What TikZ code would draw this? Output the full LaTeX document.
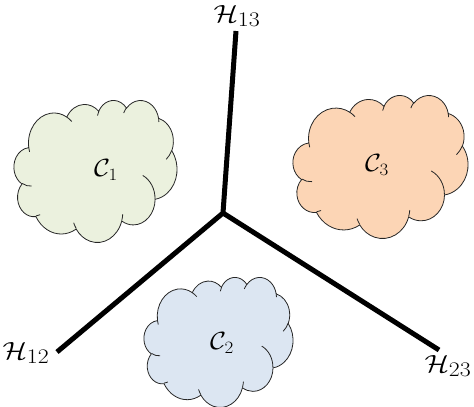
\documentclass[tikz,border=0pt]{standalone}
\usepackage{tikz}
\definecolor{cgreen}{HTML}{EBF1DE}
\definecolor{corange}{HTML}{FCD5B5}
\definecolor{cblue}{HTML}{DCE6F2}
\newcommand\ooarc[4]{arc[start angle={atan2((#1)*sin(#3),(#2)*cos(#3))}, delta angle={mod(atan2((#1)*sin((#3)+(#4)),(#2)*cos((#3)+(#4)))-atan2((#1)*sin(#3),(#2)*cos(#3))+720,360)}, x radius=#1, y radius=#2]}
\newcommand\oocloud[5]{%
\begin{scope}[xshift=#1pt, yshift=-#2pt, x=#3pt, y=-#4pt]
\filldraw[cloudline, fill=#5] (3.9,14.37)
 \ooarc{6.753}{9.19}{-190.4875}{123.7805}
 \ooarc{5.333}{7.267}{-144.1024}{89.9452}
 \ooarc{4.365}{5.945}{-145.8079}{99.7230}
 \ooarc{4.857}{6.595}{-130.9861}{117.2417}
 \ooarc{5.333}{7.273}{-78.7089}{109.0269}
 \ooarc{6.775}{9.22}{-46.2673}{130.269}
 \ooarc{5.785}{7.867}{0.625}{114.0333}
 \ooarc{6.752}{9.215}{22.4516}{115.1726}
 \ooarc{7.72}{10.543}{66.2426}{75.7110}
 \ooarc{4.36}{5.918}{-274.9421}{146.7356}
 \ooarc{4.345}{5.945}{-246.8285}{152.5189} -- cycle;
\draw[cloudline]
 (4.693,26.177) \ooarc{4.345}{5.945}{86.7420}{26.4295}
 (6.928,34.899) \ooarc{4.36}{5.918}{73.6105}{11.4475}
 (16.478,39.09) \ooarc{6.752}{9.215}{137.6242}{14.0811}
 (28.827,34.751) \ooarc{6.752}{9.215}{6.4533}{15.9984}
 (34.129,22.954) \ooarc{5.785}{7.867}{-70.2924}{70.9174}
 (41.798,15.354) \ooarc{5.333}{7.273}{30.3180}{27.7515}
 (38.324,5.426) \ooarc{4.857}{6.595}{-13.7443}{14.8589}
 (29.078,3.952) \ooarc{4.857}{6.595}{-149.1815}{18.1954}
 (22.141,4.72) \ooarc{4.365}{5.945}{-163.4943}{17.6864}
 (14.0,5.192) \ooarc{6.753}{9.19}{-66.7070}{12.3194}
 (4.127,15.789) \ooarc{6.753}{9.19}{157.6544}{11.8582};
\end{scope}}
\begin{document}
\begin{tikzpicture}[x=1pt, y=-1pt,
  cloudline/.style={draw=black!85, line width=0.8pt},
  wall/.style={line width=5pt, black},
  hlabel/.style={inner sep=0pt, font=\fontsize{28}{32}\selectfont, xscale=1.15},
  clabel/.style={inner sep=0pt, font=\fontsize{24}{28}\selectfont, xscale=1.1}]
\useasboundingbox (0,0) rectangle (474,407);
\oocloud{14}{100}{3.7731}{3.2870}{cgreen}
\oocloud{293}{95}{4.0509}{3.3102}{corange}
\oocloud{144}{277}{3.4491}{3.0093}{cblue}
\node[clabel] (c1) at (106,170) {$\mathcal{C}_1$};
\node[clabel] (c3) at (377,165) {$\mathcal{C}_3$};
\node[clabel] (c2) at (222,343) {$\mathcal{C}_2$};
\coordinate (O) at (223,213);
\coordinate (e13) at (236,31);
\coordinate (e12) at (57,352);
\coordinate (e23) at (439,350);
\draw[wall] (e13) -- (O) -- (e12);
\draw[wall] (O) -- (e23);
\node[hlabel] (h13) at (237,16) {$\mathcal{H}_{13}$};
\node[hlabel] (h12) at (26,353) {$\mathcal{H}_{12}$};
\node[hlabel] (h23) at (448,366) {$\mathcal{H}_{23}$};
\end{tikzpicture}
\end{document}
